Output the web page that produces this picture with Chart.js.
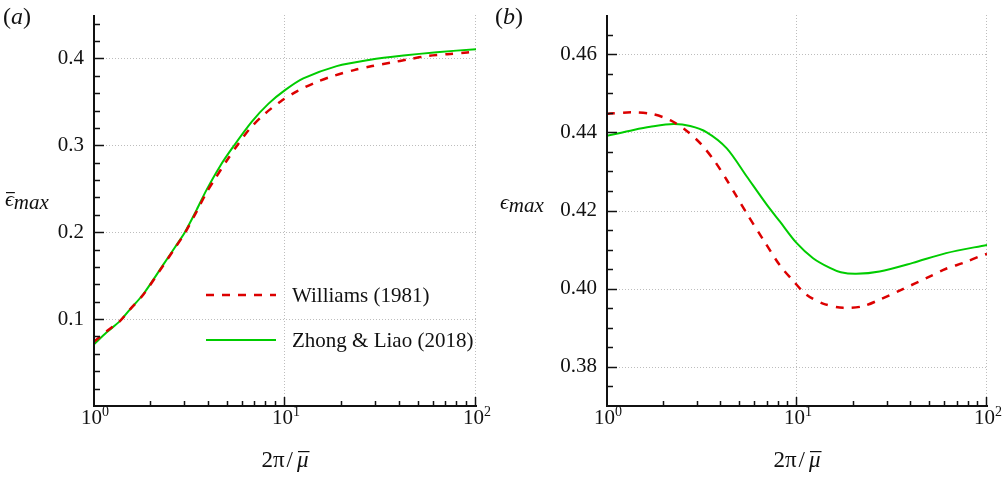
<!DOCTYPE html>
<html>
<head>
<meta charset="utf-8">
<script src="https://cdn.jsdelivr.net/npm/chart.js@4.4.0/dist/chart.umd.min.js"></script>
<style>
html, body { margin: 0; padding: 0; background: #fff; }
#wrap { position: relative; width: 1005px; height: 477px; }
#chartA { position: absolute; left: 0; top: 0; }
#chartB { position: absolute; left: 490px; top: 0; }
</style>
</head>
<body>
<div id="wrap">
    <canvas id="chartA" width="495" height="477"></canvas>
    <canvas id="chartB" width="515" height="477"></canvas>
</div>
<script>
// (a) mean max steepness vs 2pi/mu
var aWilliamsX = [1, 1.165, 1.37, 1.54, 1.81, 2.31, 2.66, 2.99, 3.45, 3.89, 4.30, 4.95, 5.69, 6.56, 7.86, 9.49, 11.6, 14.5, 18.05, 23.0, 28.6, 35.7, 44.8, 56.5, 70.8, 89.8, 100];
var aWilliamsY = [0.074, 0.086, 0.098, 0.111, 0.128, 0.162, 0.182, 0.199, 0.224, 0.246, 0.2614, 0.2823, 0.3015, 0.3195, 0.3365, 0.3505, 0.3625, 0.3725, 0.3801, 0.3866, 0.3912, 0.3951, 0.3992, 0.4031, 0.4049, 0.4069, 0.4078];
var aZhongX = [1, 1.165, 1.37, 1.54, 1.81, 2.31, 2.66, 2.99, 3.45, 3.89, 4.57, 5.3, 6.69, 8.2, 10, 12.47, 18.65, 27.9, 41.7, 62.3, 100];
var aZhongY = [0.071, 0.0848, 0.098, 0.111, 0.1286, 0.163, 0.183, 0.2, 0.226, 0.249, 0.276, 0.297, 0.327, 0.348, 0.3635, 0.377, 0.3912, 0.3985, 0.4034, 0.4072, 0.4107];

// (b) max steepness
var bWilliamsX = [1, 1.35, 1.72, 2.15, 2.65, 3.15, 3.70, 4.27, 4.81, 5.43, 6.65, 8.12, 9.55, 11.2, 13.7, 17.5, 22.2, 27.8, 34, 50.8, 60.9, 76, 93, 100];
var bWilliamsY = [0.4447, 0.4451, 0.4447, 0.4431, 0.4402, 0.4368, 0.4325, 0.4278, 0.4236, 0.4193, 0.4125, 0.4060, 0.4020, 0.3985, 0.3962, 0.3951, 0.3955, 0.3974, 0.3993, 0.4033, 0.4051, 0.4067, 0.4084, 0.4089];
var bZhongX = [1, 1.38, 1.69, 2.24, 2.74, 3.35, 4.27, 5.44, 6.93, 8.12, 9.94, 12.15, 14.9, 17, 20.5, 27.2, 40.7, 60.9, 100];
var bZhongY = [0.4391, 0.4406, 0.4414, 0.4421, 0.4416, 0.4400, 0.4359, 0.4287, 0.4215, 0.4172, 0.4117, 0.4078, 0.4053, 0.4042, 0.4038, 0.4044, 0.4066, 0.4091, 0.4112];

var seriesNames = ['Williams (1981)', 'Zhong & Liao (2018)'];
var xTicks = [1, 10, 100];
var aYTicks = [0.1, 0.2, 0.3, 0.4];
var bYTicks = [0.38, 0.40, 0.42, 0.44, 0.46];

var RED = 'rgb(220, 0, 0)';
var GREEN = 'rgb(0, 204, 0)';
var SERIF = "'Liberation Serif', 'Times New Roman', 'DejaVu Serif', serif";

function toPoints(xs, ys) {
    return xs.map(function (v, i) { return {x: v, y: ys[i]}; });
}

// draws a run of text pieces (some italic / shifted), returns end x
function drawRich(ctx, parts, x, y) {
    parts.forEach(function (p) {
        ctx.font = (p.italic ? 'italic ' : '') + (p.size || 21) + 'px ' + SERIF;
        var w = ctx.measureText(p.t).width;
        ctx.fillText(p.t, x, y + (p.dy || 0));
        if (p.bar) {
            ctx.fillRect(x + (p.barOff || 1), y - p.bar, w - (p.barOff || 1) + 1, 1.2);
        }
        x += w + (p.gap || 0);
    });
    return x;
}

function richWidth(ctx, parts) {
    var w = 0;
    parts.forEach(function (p) {
        ctx.font = (p.italic ? 'italic ' : '') + (p.size || 21) + 'px ' + SERIF;
        w += ctx.measureText(p.t).width + (p.gap || 0);
    });
    return w;
}

var decoPlugin = {
    id: 'deco',
    beforeDatasetsDraw: function (chart, args, o) {
        var ctx = chart.ctx, a = chart.chartArea, xs = chart.scales.x, ys = chart.scales.y;
        ctx.save();
        ctx.strokeStyle = '#bdbdbd';
        ctx.lineWidth = 1;
        ctx.setLineDash([1, 2]);
        o.yTicks.forEach(function (v) {
            var py = Math.round(ys.getPixelForValue(v)) + 0.5;
            ctx.beginPath(); ctx.moveTo(a.left, py); ctx.lineTo(a.right, py); ctx.stroke();
        });
        xTicks.slice(1).forEach(function (v) {
            var px = Math.round(xs.getPixelForValue(v)) - 0.5;
            ctx.beginPath(); ctx.moveTo(px, a.top); ctx.lineTo(px, a.bottom); ctx.stroke();
        });
        ctx.restore();
    },
    afterDatasetsDraw: function (chart, args, o) {
        var ctx = chart.ctx, a = chart.chartArea, xs = chart.scales.x, ys = chart.scales.y;
        ctx.save();
        ctx.fillStyle = '#111';
        ctx.strokeStyle = '#111';

        // axis lines
        ctx.lineWidth = 2;
        ctx.beginPath();
        ctx.moveTo(a.left, a.top);
        ctx.lineTo(a.left, a.bottom);
        ctx.lineTo(a.right + 1, a.bottom);
        ctx.stroke();

        // y ticks, pointing inside
        ctx.lineWidth = 1.5;
        var n = Math.round((o.yMax - o.yMin) / o.yStep);
        for (var i = 1; i < n; i++) {
            var v = o.yMin + i * o.yStep;
            var major = o.yTicks.some(function (t) { return Math.abs(t - v) < 1e-9; });
            var py = Math.round(ys.getPixelForValue(v)) + 0.5;
            ctx.beginPath(); ctx.moveTo(a.left, py); ctx.lineTo(a.left + (major ? 10 : 6), py); ctx.stroke();
        }

        // x ticks (log decades)
        for (var d = 1; d <= 10; d *= 10) {
            for (var k = 2; k <= 10; k++) {
                var px = Math.round(xs.getPixelForValue(k * d)) - 0.5;
                var len = k === 10 ? 9 : 5;
                ctx.beginPath(); ctx.moveTo(px, a.bottom); ctx.lineTo(px, a.bottom - len); ctx.stroke();
            }
        }

        // x tick labels 10^n
        ctx.textBaseline = 'alphabetic';
        xTicks.forEach(function (v) {
            var parts = [{t: '10', size: 21}, {t: String(Math.round(Math.log10(v))), size: 14, dy: -8}];
            var w = richWidth(ctx, parts);
            drawRich(ctx, parts, xs.getPixelForValue(v) - w / 2 + 1, a.bottom + 18);
        });

        // x title 2pi/mu
        var xt = [{t: '2π', size: 23, gap: 2}, {t: '/', size: 23, gap: 4}, {t: 'μ', italic: true, size: 23, bar: 16}];
        var xw = richWidth(ctx, xt);
        drawRich(ctx, xt, (a.left + a.right) / 2 - xw / 2, a.bottom + 61);

        // y title
        drawRich(ctx, [
            {t: 'ϵ', italic: true, size: 22, bar: o.yBar ? 14 : 0, barOff: 0},
            {t: 'max', italic: true, size: 21, dy: 3}
        ], o.yTitleX, o.yTitleY);

        // panel label
        drawRich(ctx, [{t: '(', size: 24}, {t: o.label, italic: true, size: 24}, {t: ')', size: 24}], o.labelX, 24);

        // legend
        if (o.legend) {
            chart.data.datasets.forEach(function (ds, j) {
                var ly = a.top + 280 + j * 45;
                ctx.save();
                ctx.strokeStyle = ds.borderColor;
                ctx.lineWidth = ds.borderWidth;
                ctx.setLineDash(ds.borderDash || []);
                ctx.beginPath(); ctx.moveTo(a.left + 112, ly); ctx.lineTo(a.left + 182, ly); ctx.stroke();
                ctx.restore();
                ctx.font = '21px ' + SERIF;
                ctx.textBaseline = 'middle';
                ctx.fillText(ds.label, a.left + 198, ly + 1);
            });
        }
        ctx.restore();
    }
};

function makeChart(id, wx, wy, zx, zy, cfg) {
    var ctx = document.getElementById(id).getContext('2d');
    return new Chart(ctx, {
        type: 'scatter',
        data: {
            datasets: [{
                label: seriesNames[0],
                data: toPoints(wx, wy),
                showLine: true,
                borderColor: RED,
                borderWidth: 2.5,
                borderDash: [8, 8],
                pointRadius: 0,
                tension: 0.3,
                order: 0
            }, {
                label: seriesNames[1],
                data: toPoints(zx, zy),
                showLine: true,
                borderColor: GREEN,
                borderWidth: 2,
                pointRadius: 0,
                tension: 0.3,
                order: 1
            }]
        },
        options: {
            responsive: false,
            animation: false,
            events: [],
            layout: {padding: {top: 15, right: cfg.padRight, left: 0, bottom: 0}},
            plugins: {
                legend: {display: false},
                tooltip: {enabled: false},
                deco: cfg.deco
            },
            scales: {
                x: {
                    type: 'logarithmic',
                    min: 1,
                    max: 100,
                    afterBuildTicks: function (s) { s.ticks = xTicks.map(function (v) { return {value: v}; }); },
                    afterFit: function (s) { s.height = 71; s.paddingLeft = 0; s.paddingRight = 0; },
                    grid: {display: false, drawTicks: false},
                    border: {display: false},
                    ticks: {display: false}
                },
                y: {
                    min: cfg.deco.yMin,
                    max: cfg.deco.yMax,
                    afterBuildTicks: function (s) { s.ticks = cfg.deco.yTicks.map(function (v) { return {value: v}; }); },
                    afterFit: function (s) { s.width = cfg.yWidth; s.paddingTop = 0; s.paddingBottom = 0; },
                    grid: {display: false, drawTicks: false},
                    border: {display: false},
                    ticks: {
                        padding: 10,
                        color: '#111',
                        font: {family: SERIF, size: 21},
                        callback: function (v) { return Number(v).toFixed(cfg.digits); }
                    }
                }
            }
        },
        plugins: [decoPlugin]
    });
}

makeChart('chartA', aWilliamsX, aWilliamsY, aZhongX, aZhongY, {
    padRight: 19, yWidth: 94, digits: 1,
    deco: {yMin: 0, yMax: 0.45, yStep: 0.02, yTicks: aYTicks, label: 'a', labelX: 3,
           yTitleX: 5, yTitleY: 206, yBar: true, legend: true}
});

makeChart('chartB', bWilliamsX, bWilliamsY, bZhongX, bZhongY, {
    padRight: 18, yWidth: 117, digits: 2,
    deco: {yMin: 0.37, yMax: 0.47, yStep: 0.005, yTicks: bYTicks, label: 'b', labelX: 5,
           yTitleX: 10, yTitleY: 209, yBar: false, legend: false}
});
</script>
</body>
</html>
